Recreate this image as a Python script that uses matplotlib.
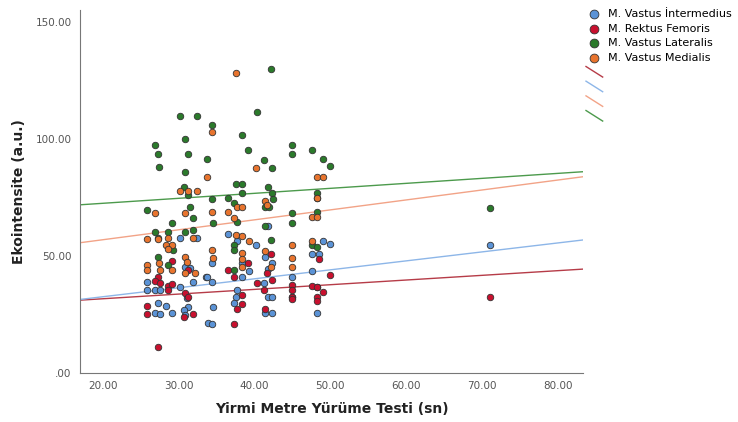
import matplotlib
matplotlib.use("Agg")
import matplotlib.pyplot as plt
from matplotlib.legend_handler import HandlerBase
from matplotlib.lines import Line2D
import numpy as np

# Scatter data (x = walk test seconds, y = echo intensity)
vi_x = [30.2, 32.4, 30.8, 31.5, 25.8, 25.8, 26.9, 27.5, 30.2, 31.9, 33.6, 31.1, 27.3, 28.4,
        26.9, 27.5, 29.1, 31.2, 30.7, 30.8, 33.9, 36.5, 37.7, 40.2, 34.4, 38.3, 41.4, 42.3,
        41.8, 39.3, 38.3, 33.7, 34.4, 41.2, 37.7, 37.5, 37.3, 41.8, 42.3, 34.5, 41.4, 42.3,
        34.4, 41.8, 49.0, 49.9, 47.6, 48.5, 47.6, 44.9, 44.9, 48.2, 48.3, 71.1]
vi_y = [57.7, 57.7, 45.3, 44.9, 38.9, 35.5, 35.5, 35.5, 36.8, 38.9, 41.0, 32.1, 29.9, 28.6,
        25.6, 25.2, 25.6, 28.2, 26.9, 24.8, 21.4, 59.4, 56.4, 54.7, 47.0, 47.0, 49.6, 47.0,
        44.4, 43.6, 41.0, 41.0, 38.9, 38.5, 35.5, 32.5, 29.9, 32.5, 32.5, 28.2, 25.6, 25.6,
        20.9, 62.8, 56.4, 55.1, 50.9, 50.9, 43.6, 41.0, 32.5, 36.8, 25.6, 54.7]

rf_x = [29.1, 31.2, 27.3, 26.9, 27.5, 28.6, 29.1, 28.6, 30.8, 31.2, 25.8, 25.8, 30.7, 31.9,
        27.3, 42.2, 41.6, 39.1, 36.5, 37.3, 40.3, 42.3, 38.3, 38.3, 41.2, 37.7, 41.4, 37.3,
        48.5, 49.9, 44.9, 44.9, 44.9, 44.9, 47.6, 48.2, 49.0, 48.3, 48.2, 71.1]
rf_y = [47.9, 44.0, 41.0, 39.3, 38.5, 37.2, 38.0, 35.5, 34.2, 32.5, 28.6, 25.2, 23.9, 25.2,
        11.1, 50.9, 42.7, 47.0, 44.0, 41.0, 38.5, 39.7, 33.3, 29.5, 35.5, 27.4, 27.4, 20.9,
        48.7, 41.9, 37.6, 35.5, 32.5, 31.6, 37.2, 36.8, 34.6, 32.5, 30.8, 32.5]

vl_x = [26.9, 27.3, 27.4, 30.2, 32.4, 30.8, 31.2, 30.8, 33.7, 34.4, 38.3, 39.1, 40.3, 42.2,
        41.2, 42.3, 44.9, 44.9, 47.6, 49.0, 49.9, 30.7, 31.2, 25.8, 31.5, 31.9, 29.1, 26.9,
        27.3, 28.6, 30.8, 31.9, 29.2, 27.3, 28.6, 37.6, 38.3, 38.3, 41.8, 42.3, 42.4, 34.4,
        36.5, 37.3, 41.4, 41.9, 37.7, 34.5, 41.4, 37.3, 37.3, 42.2, 37.3, 48.3, 48.3, 44.9,
        48.3, 44.9, 47.6, 48.2, 71.1]
vl_y = [97.4, 93.6, 88.0, 109.8, 109.8, 100.0, 93.6, 85.9, 91.5, 106.0, 101.7, 95.3, 111.5, 129.9,
        91.0, 87.6, 97.4, 93.6, 95.3, 91.5, 88.5, 79.5, 76.2, 69.7, 70.9, 66.2, 64.1, 60.3,
        57.7, 60.3, 60.3, 61.1, 52.6, 49.6, 46.2, 80.8, 80.8, 76.9, 79.5, 76.9, 74.4, 74.4,
        74.8, 72.6, 70.9, 70.9, 64.5, 64.1, 62.8, 54.7, 52.6, 56.8, 44.0, 76.9, 74.8, 68.4,
        68.8, 64.1, 54.7, 53.8, 70.5]

vm_x = [37.6, 34.4, 33.7, 30.2, 31.2, 32.4, 26.9, 30.8, 25.8, 25.8, 27.5, 29.1, 30.8, 31.1,
        30.8, 32.1, 27.4, 31.9, 25.8, 27.3, 28.6, 28.4, 29.1, 28.6, 40.2, 41.4, 41.6, 37.7,
        38.3, 34.4, 36.5, 37.3, 37.5, 38.3, 39.3, 34.4, 34.5, 38.3, 38.3, 38.3, 41.4, 42.2,
        48.2, 49.0, 48.3, 47.6, 48.2, 44.9, 47.6, 44.9, 44.9]
vm_y = [128.2, 103.0, 83.8, 77.8, 77.8, 77.8, 68.4, 68.4, 46.2, 44.0, 44.0, 44.0, 49.6, 47.4,
        42.7, 42.7, 47.0, 57.7, 57.3, 57.3, 57.7, 54.7, 54.7, 53.0, 87.6, 73.5, 71.8, 70.9,
        70.9, 68.8, 68.8, 66.2, 59.0, 58.5, 56.4, 52.6, 49.1, 51.3, 48.7, 45.3, 52.1, 45.3,
        83.8, 83.8, 74.8, 66.7, 66.7, 54.7, 56.4, 49.1, 45.3]

# Fit lines: intercept at x = 0 and slope
fit_intercept = {"vi": 24.9, "rf": 27.7, "vl": 68.2, "vm": 48.4}
fit_slope = {"vi": 0.383, "rf": 0.200, "vl": 0.213, "vm": 0.425}

labels = ["M. Vastus \u0130ntermedius", "M. Rektus Femoris",
          "M. Vastus Lateralis", "M. Vastus Medialis"]
dot_colors = ["#5b93d6", "#c8102e", "#2b7a2b", "#e8742e"]
fit_colors = {"vi": "#8db6e8", "rf": "#b63c48", "vl": "#4c9a4c", "vm": "#f2a387"}

x_ticks = [20, 30, 40, 50, 60, 70, 80]
y_ticks = [0, 50, 100, 150]


class DiagHandler(HandlerBase):
    """Short diagonal line like the SPSS fit-line legend entries."""
    def create_artists(self, legend, orig, xd, yd, width, height, fontsize, trans):
        ln = Line2D([0, width], [height + 1, -1], color=orig.get_color(), lw=1)
        ln.set_transform(trans)
        return [ln]


fig = plt.figure(figsize=(7.38, 4.22), dpi=100)
ax = fig.add_axes([80 / 738, 49 / 422, 503 / 738, 363 / 422])

series = [(vi_x, vi_y), (rf_x, rf_y), (vl_x, vl_y), (vm_x, vm_y)]
dots = []
for (xs, ys), lab, col in zip(series, labels, dot_colors):
    d = ax.scatter(xs, ys, s=22, color=col, edgecolors="#333333", linewidths=0.6,
                   label=lab, zorder=3)
    dots.append(d)

xmin, xmax = 17.0, 83.3
xx = np.array([xmin, xmax])
fit_lines = {}
for key in ["rf", "vi", "vm", "vl"]:
    ln, = ax.plot(xx, fit_intercept[key] + fit_slope[key] * xx, color=fit_colors[key],
                  lw=1, zorder=2)
    fit_lines[key] = ln

ax.set_xlim(xmin, xmax)
ax.set_ylim(0, 155)
ax.set_xticks(x_ticks)
ax.set_xticklabels(["%.2f" % v for v in x_ticks])
ax.set_yticks(y_ticks)
ax.set_yticklabels([".00" if v == 0 else "%.2f" % v for v in y_ticks])
ax.tick_params(length=0, labelsize=7.5, labelcolor="#555555", pad=6)
ax.spines["top"].set_visible(False)
ax.spines["right"].set_visible(False)
for s in ["left", "bottom"]:
    ax.spines[s].set_color("#777777")
    ax.spines[s].set_linewidth(0.8)

ax.set_xlabel("Yirmi Metre Yürüme Testi (sn)", fontsize=10, fontweight="bold",
              color="#222222", labelpad=8)
ax.set_ylabel("Ekointensite (a.u.)", fontsize=10, fontweight="bold",
              color="#222222", labelpad=7)

handles = dots + [fit_lines[k] for k in ["rf", "vi", "vm", "vl"]]
leg_labels = labels + [""] * 4
fig.legend(handles, leg_labels, loc="upper left", bbox_to_anchor=(586 / 738, 1 - 9 / 422),
           frameon=False, fontsize=8, handlelength=1.5, handletextpad=0.45,
           labelspacing=0.42, borderaxespad=0, borderpad=0, markerscale=1.35,
           handler_map={Line2D: DiagHandler()})

fig.savefig("out.png", dpi=100)
